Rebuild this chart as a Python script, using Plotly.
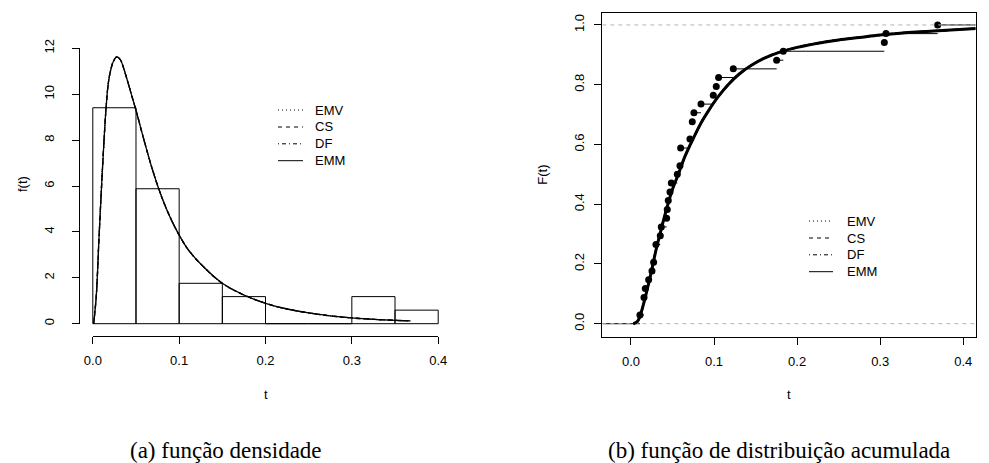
import plotly.graph_objects as go

W, H = 989, 463

# ---------------- data ----------------
hist_edges = [0.00, 0.05, 0.10, 0.15, 0.20, 0.25, 0.30, 0.35, 0.40]
hist_density = [9.41, 5.88, 1.76, 1.18, 0.00, 0.00, 1.18, 0.59]

dens_t = [0.001, 0.004, 0.007, 0.010, 0.013, 0.0154, 0.018, 0.021, 0.024, 0.0278,
          0.032, 0.036, 0.040, 0.045, 0.050, 0.060, 0.070, 0.080, 0.090, 0.100,
          0.110, 0.125, 0.150, 0.175, 0.200, 0.225, 0.250, 0.275, 0.300, 0.330, 0.368]
dens_f = [0.0, 1.2, 3.6, 5.9, 8.0, 9.43, 10.5, 11.1, 11.45, 11.63,
          11.5, 11.1, 10.6, 9.95, 9.3, 7.9, 6.6, 5.5, 4.6, 3.86,
          3.25, 2.6, 1.76, 1.25, 0.89, 0.64, 0.47, 0.34, 0.25, 0.18, 0.12]

ecdf_t = [0.0108, 0.0157, 0.0173, 0.0213, 0.0253, 0.0273, 0.0301, 0.0353, 0.0365, 0.0429,
          0.0437, 0.0449, 0.0470, 0.0486, 0.0558, 0.0590, 0.0598, 0.0710, 0.0738, 0.0758,
          0.0843, 0.0991, 0.1027, 0.1055, 0.1232, 0.1754, 0.1834, 0.3050, 0.3070, 0.3692]
ecdf_F = [0.029, 0.088, 0.118, 0.147, 0.176, 0.206, 0.265, 0.294, 0.324, 0.353,
          0.382, 0.412, 0.441, 0.471, 0.500, 0.529, 0.588, 0.618, 0.676, 0.706,
          0.735, 0.765, 0.794, 0.824, 0.853, 0.882, 0.912, 0.941, 0.971, 1.000]

cdf_t = [0.003, 0.008, 0.012, 0.016, 0.020, 0.025, 0.030, 0.035, 0.040, 0.045,
         0.050, 0.057, 0.065, 0.075, 0.085, 0.095, 0.105, 0.117, 0.130, 0.145,
         0.160, 0.180, 0.200, 0.225, 0.250, 0.275, 0.300, 0.330, 0.360, 0.390, 0.415]
cdf_F = [0.0, 0.008, 0.035, 0.075, 0.12, 0.18, 0.245, 0.30, 0.355, 0.405,
         0.45, 0.50, 0.56, 0.62, 0.675, 0.72, 0.76, 0.80, 0.835, 0.865,
         0.888, 0.91, 0.925, 0.939, 0.95, 0.958, 0.966, 0.974, 0.979, 0.984, 0.988]

methods = ["EMV", "CS", "DF", "EMM"]
dashes = ["1px,3px", "4px,4px", "1px,3px,4px,3px", "solid"]

x_ticks = [0.0, 0.1, 0.2, 0.3, 0.4]
yl_ticks = [0, 2, 4, 6, 8, 10, 12]
yr_ticks = [0.0, 0.2, 0.4, 0.6, 0.8, 1.0]

captions = ["(a) função densidade", "(b) função de distribuição acumulada"]

# ---------------- layout geometry (pixels) ----------------
AX_FONT = dict(family="Liberation Sans, Arial, sans-serif", size=13, color="black")
CAP_FONT = dict(family="Liberation Serif, Times New Roman, serif", size=23, color="black")

def fx(p):
    return p / W

def fy(p):
    return 1 - p / H

L_xr = [-0.016, 0.416]
L_yr = [-0.48, 12.48]
L_px = [79, 452]
L_py = [37.3, 334.7]

R_xr = [-0.0345, 0.415]
R_yr = [-0.0435, 1.039]
R_px = [602.3, 975.7]
R_py = [13.3, 336.7]

# legend placement (pixels): line start, line end, text start, row centres
L_leg = dict(x0=278, x1=303, xt=313, rows=[110, 127.0, 143.8, 160.7])
R_leg = dict(x0=809, x1=833, xt=844.7, rows=[221, 238.0, 254.8, 271.7])

def map_x(v, rng, px):
    return px[0] + (v - rng[0]) / (rng[1] - rng[0]) * (px[1] - px[0])

def map_y(v, rng, py):
    return py[1] - (v - rng[0]) / (rng[1] - rng[0]) * (py[1] - py[0])

fig = go.Figure()

# ---------------- left: histogram + densities ----------------
hx, hy = [], []
for i, h in enumerate(hist_density):
    x0, x1 = hist_edges[i], hist_edges[i + 1]
    hx += [x0, x0, x1, x1, x0, None]
    hy += [0, h, h, 0, 0, None]
fig.add_trace(go.Scatter(x=hx, y=hy, mode="lines", line=dict(color="black", width=1),
                         xaxis="x", yaxis="y", showlegend=False, hoverinfo="skip"))

for m, d in zip(methods, dashes):
    fig.add_trace(go.Scatter(x=dens_t, y=dens_f, mode="lines", line_shape="spline",
                             line=dict(color="black", width=1.3, dash=d), name=m,
                             xaxis="x", yaxis="y", showlegend=False))

# axis-only subplot (R style detached axes)
fig.add_trace(go.Scatter(x=[], y=[], xaxis="x3", yaxis="y3", showlegend=False, hoverinfo="skip"))

# ---------------- right: ECDF + CDFs ----------------
sx, sy = [R_xr[0], ecdf_t[0], None], [0, 0, None]
for i in range(len(ecdf_t)):
    x1 = ecdf_t[i + 1] if i + 1 < len(ecdf_t) else R_xr[1]
    sx += [ecdf_t[i], x1, None]
    sy += [ecdf_F[i], ecdf_F[i], None]
fig.add_trace(go.Scatter(x=sx, y=sy, mode="lines", line=dict(color="black", width=1),
                         xaxis="x2", yaxis="y2", showlegend=False, hoverinfo="skip"))
fig.add_trace(go.Scatter(x=ecdf_t, y=ecdf_F, mode="markers",
                         marker=dict(color="black", size=7),
                         xaxis="x2", yaxis="y2", showlegend=False))
for lvl in [0, 1]:
    fig.add_trace(go.Scatter(x=R_xr, y=[lvl, lvl], mode="lines",
                             line=dict(color="#B3B3B3", width=1, dash="4px,4px"),
                             xaxis="x2", yaxis="y2", showlegend=False, hoverinfo="skip"))
for m, d in zip(methods, dashes):
    fig.add_trace(go.Scatter(x=cdf_t, y=cdf_F, mode="lines", line_shape="spline",
                             line=dict(color="black", width=3 if d == "solid" else 2, dash=d),
                             name=m, xaxis="x2", yaxis="y2", showlegend=False))

# ---------------- legends (R style, no box) ----------------
for leg in (L_leg, R_leg):
    for m, d, yc in zip(methods, dashes, leg["rows"]):
        fig.add_shape(type="line", xref="paper", yref="paper",
                      x0=fx(leg["x0"]), x1=fx(leg["x1"]), y0=fy(yc), y1=fy(yc),
                      line=dict(color="black", width=1, dash=d))
        fig.add_annotation(text=m, xref="paper", yref="paper", x=fx(leg["xt"]), y=fy(yc),
                           xanchor="left", yanchor="middle", showarrow=False, font=AX_FONT)

# ---------------- axes ----------------
hidden = dict(visible=False, showgrid=False, zeroline=False)
tick_common = dict(ticks="outside", ticklen=7, tickwidth=1, tickcolor="black",
                   showline=True, linecolor="black", linewidth=1,
                   showgrid=False, zeroline=False, tickfont=AX_FONT, automargin=False)

x3_dom = [fx(map_x(0.0, L_xr, L_px)), fx(map_x(0.4, L_xr, L_px))]
y3_dom = [fy(map_y(0, L_yr, L_py)), fy(map_y(12, L_yr, L_py))]

fig.update_layout(
    width=W, height=H, autosize=False,
    margin=dict(l=0, r=0, t=0, b=0, pad=0, autoexpand=False),
    paper_bgcolor="white", plot_bgcolor="rgba(0,0,0,0)",
    showlegend=False, hovermode=False,
    xaxis=dict(domain=[fx(L_px[0]), fx(L_px[1])], range=L_xr, anchor="y", **hidden),
    yaxis=dict(domain=[fy(L_py[1]), fy(L_py[0])], range=L_yr, anchor="x", **hidden),
    xaxis3=dict(domain=x3_dom, range=[0, 0.4], anchor="free", position=fy(335.7),
                tickvals=x_ticks, ticktext=[f"{v:.1f}" for v in x_ticks],
                ticklabelstandoff=6, **tick_common),
    yaxis3=dict(domain=y3_dom, range=[0, 12], anchor="free", position=fx(L_px[0]),
                tickvals=yl_ticks, ticktext=[str(v) for v in yl_ticks], tickangle=-90,
                ticklabelstandoff=13, **tick_common),
    xaxis2=dict(domain=[fx(R_px[0]), fx(R_px[1])], range=R_xr, anchor="y2",
                tickvals=x_ticks, ticktext=[f"{v:.1f}" for v in x_ticks], mirror=True,
                ticklabelstandoff=6, **tick_common),
    yaxis2=dict(domain=[fy(R_py[1]), fy(R_py[0])], range=R_yr, anchor="x2",
                tickvals=yr_ticks, ticktext=[f"{v:.1f}" for v in yr_ticks], tickangle=-90,
                mirror=True, ticklabelstandoff=5, **tick_common),
)

ann = [
    dict(text="t", x=fx((L_px[0] + L_px[1]) / 2), y=fy(394)),
    dict(text="f(t)", x=fx(22), y=fy(184)),
    dict(text="t", x=fx((R_px[0] + R_px[1]) / 2), y=fy(394)),
    dict(text="F(t)", x=fx(541.7), y=fy((R_py[0] + R_py[1]) / 2)),
]
for a in ann:
    ang = -90 if "(" in a["text"] else 0
    fig.add_annotation(xref="paper", yref="paper", showarrow=False, textangle=ang,
                       xanchor="center", yanchor="middle", font=AX_FONT, **a)

fig.add_annotation(text=captions[0], xref="paper", yref="paper", x=fx(226), y=fy(450),
                   showarrow=False, xanchor="center", yanchor="middle", font=CAP_FONT)
fig.add_annotation(text=captions[1], xref="paper", yref="paper", x=fx(779), y=fy(450),
                   showarrow=False, xanchor="center", yanchor="middle", font=CAP_FONT)

fig.write_html(
    "out.html",
    config={"displayModeBar": False, "staticPlot": True},
    post_script="document.body.style.margin='0px';document.body.style.padding='0px';"
                "document.documentElement.style.overflow='hidden';",
)
